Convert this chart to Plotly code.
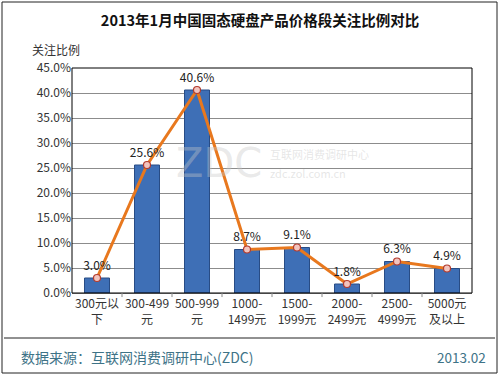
import plotly.graph_objects as go

categories = ["300元以<br>下", "300-499<br>元", "500-999<br>元", "1000-<br>1499元",
              "1500-<br>1999元", "2000-<br>2499元", "2500-<br>4999元", "5000元<br>及以上"]
values = [3.0, 25.6, 40.6, 8.7, 9.1, 1.8, 6.3, 4.9]
labels = [f"{v:.1f}%" for v in values]
yticks = [0, 5, 10, 15, 20, 25, 30, 35, 40, 45]
ytick_text = [f"{v:.1f}%" for v in yticks]

FONT = "Noto Sans CJK SC"

fig = go.Figure()
fig.add_trace(go.Bar(
    x=categories, y=values,
    marker=dict(color="#3E6FB6", line=dict(color="#284C85", width=1)),
    width=0.5, showlegend=False, hoverinfo="skip"))
fig.add_trace(go.Scatter(
    x=categories, y=values, mode="lines+markers+text",
    text=labels, textposition="top center",
    textfont=dict(size=12, color="#222", family=FONT),
    line=dict(color="#E8781E", width=3),
    marker=dict(symbol="circle", size=7, color="#F2C4BE", line=dict(color="#B23B2E", width=1.2)),
    showlegend=False, cliponaxis=False))

shapes = [
    # plot frame
    dict(type="rect", xref="paper", yref="paper", x0=0, x1=1, y0=0, y1=1,
         line=dict(color="#000000", width=1), layer="above"),
    # outer border
    dict(type="rect", xref="paper", yref="paper",
         x0=-70/400, x1=1 + 25/400, y0=-80/225, y1=1 + 66/225,
         line=dict(color="#222222", width=1), layer="above"),
    # separator line
    dict(type="line", xref="paper", yref="paper",
         x0=-68/400, x1=1 + 23/400, y0=-45/225, y1=-45/225,
         line=dict(color="#222222", width=1), layer="above"),
]
for k in range(1, len(categories)):
    shapes.append(dict(type="line", xref="paper", yref="paper",
                       x0=k / len(categories), x1=k / len(categories),
                       y0=0, y1=-0.018, line=dict(color="#888888", width=1)))

fig.update_layout(
    width=500, height=375,
    margin=dict(l=72, r=28, t=68, b=82, autoexpand=False),
    paper_bgcolor="white", plot_bgcolor="white",
    font=dict(family=FONT, size=12, color="#333"),
    title=dict(text="<b>2013年1月中国固态硬盘产品价格段关注比例对比</b>",
               x=0.52, xanchor="center", y=0.943, yanchor="middle",
               font=dict(size=14.5, color="#111", family=FONT)),
    xaxis=dict(showgrid=False, showline=True, linecolor="#888", linewidth=1,
               ticks="", tickfont=dict(size=12, color="#333"), fixedrange=True),
    yaxis=dict(range=[0, 45], tickvals=yticks, ticktext=ytick_text,
               showgrid=True, gridcolor="#8c8c8c", gridwidth=1, zeroline=False,
               showline=False, ticks="", tickfont=dict(size=12, color="#333")),
    bargap=0.5,
    shapes=shapes,
)

fig.add_annotation(text="关注比例", xref="paper", yref="paper", x=-42/400, y=1 + 18/225,
                   xanchor="left", yanchor="middle", showarrow=False,
                   font=dict(size=12, color="#333", family=FONT))
fig.add_annotation(text="数据来源：互联网消费调研中心(ZDC)", xref="paper", yref="paper",
                   x=-53/400, y=-64/225, xanchor="left", yanchor="middle", showarrow=False,
                   font=dict(size=14, color="#3E7387", family=FONT))
fig.add_annotation(text="2013.02", xref="paper", yref="paper",
                   x=1 + 16/400, y=-64/225, xanchor="right", yanchor="middle", showarrow=False,
                   font=dict(size=13.5, color="#3E7387", family=FONT))
# faint watermark
fig.add_annotation(text="ZDC", xref="paper", yref="paper", x=0.48, y=0.58,
                   xanchor="right", yanchor="middle", showarrow=False,
                   font=dict(size=40, color="rgba(200,200,200,0.4)", family="DejaVu Sans"))
fig.add_annotation(text="互联网消费调研中心", xref="paper", yref="paper",
                   x=0.49, y=0.62, xanchor="left", yanchor="middle", showarrow=False,
                   font=dict(size=11, color="rgba(200,200,200,0.45)", family=FONT))
fig.add_annotation(text="zdc.zol.com.cn", xref="paper", yref="paper",
                   x=0.49, y=0.535, xanchor="left", yanchor="middle", showarrow=False,
                   font=dict(size=11, color="rgba(200,200,200,0.45)", family=FONT))

fig.write_html("out.html", config={"displayModeBar": False},
               post_script="document.body.style.margin='0';document.body.style.padding='0';")
